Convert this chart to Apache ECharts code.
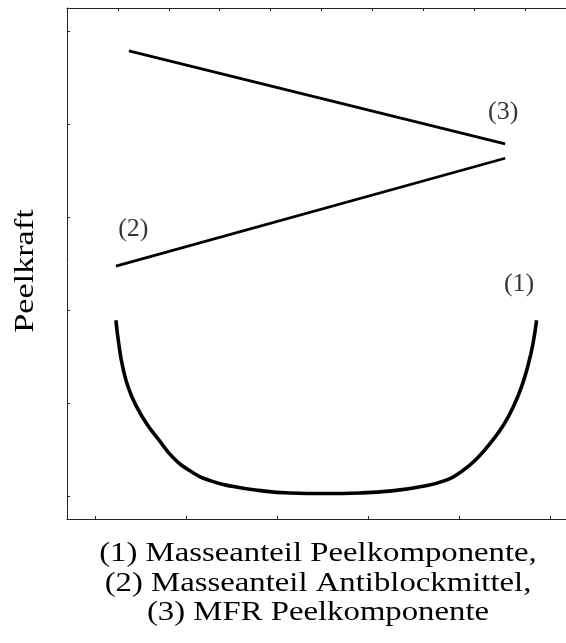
<!DOCTYPE html>
<html>
<head>
<meta charset="utf-8">
<script src="https://cdn.jsdelivr.net/npm/echarts@6/dist/echarts.min.js"></script>
<style>
  html, body { margin: 0; padding: 0; background: #fff; }
  #chart { width: 566px; height: 643px; }
</style>
</head>
<body>
<div id="chart"></div>
<script>
// Schematic: peel force vs. three influencing factors (relative units, 0..100)

// (1) Masseanteil Peelkomponente: U-shaped response
const curve1 = [
  [9.8, 38.9], [10.4, 34.1], [11.2, 29.6], [12.4, 25.4], [14.0, 21.9],
  [16.0, 18.6], [18.4, 15.5], [21.2, 12.1], [24.7, 9.4], [28.7, 7.5],
  [33.1, 6.4], [38.3, 5.6], [44.7, 5.1], [51.7, 5.0], [58.7, 5.1],
  [65.1, 5.5], [70.7, 6.3], [75.4, 7.4], [79.2, 9.4], [82.4, 12.1],
  [85.2, 15.3], [87.6, 18.6], [89.6, 22.3], [91.2, 26.2], [92.4, 30.1],
  [93.4, 34.4], [94.1, 38.9]
];
// (2) Masseanteil Antiblockmittel: rising
const line2 = [[9.8, 49.5], [87.8, 70.6]];
// (3) MFR Peelkomponente: falling
const line3 = [[12.4, 91.6], [87.8, 73.4]];

// Curve tags
const tagNames = ['(1)', '(2)', '(3)'];
const tagPos = [[90.6, 45.9], [13.3, 56.8], [87.4, 79.6]];

// Tick positions (no tick labels are shown)
const bottomTicks = [5.6, 23.8, 42.1, 60.3, 78.6, 96.8];
const topTicks = [0, 10.2, 20.4, 30.6, 40.8, 51.0, 61.2, 71.4, 81.6, 91.8];
const leftTicks = [4.5, 22.7, 40.9, 59.1, 77.3, 95.5];

const yTitle = 'Peelkraft';
const captionLines = [
  '(1) Masseanteil Peelkomponente,',
  '(2) Masseanteil Antiblockmittel,',
  '(3) MFR Peelkomponente'
];

const FONT = '"Liberation Serif", "Times New Roman", serif';
const AXIS_COLOR = '#222';

const chart = echarts.init(document.getElementById('chart'), null, { renderer: 'canvas' });

function axisBase(ticks) {
  return {
    type: 'value', min: 0, max: 100,
    axisLine: { show: true, onZero: false, lineStyle: { color: AXIS_COLOR, width: 1 } },
    axisTick: { show: true, inside: true, length: 3, customValues: ticks,
                lineStyle: { color: AXIS_COLOR, width: 1 } },
    axisLabel: { show: false },
    splitLine: { show: false }
  };
}

const option = {
  animation: false,
  backgroundColor: '#fff',
  grid: { left: 67, right: 0, top: 8, bottom: 124, containLabel: false },
  xAxis: [
    Object.assign(axisBase(bottomTicks), { position: 'bottom' }),
    Object.assign(axisBase(topTicks), { position: 'top' })
  ],
  yAxis: [
    Object.assign(axisBase(leftTicks), { position: 'left' })
  ],
  series: [
    {
      type: 'line', data: curve1, smooth: 0.5,
      showSymbol: false, silent: true,
      lineStyle: { color: '#000', width: 3.6 }
    },
    {
      type: 'line', data: line2, showSymbol: false, silent: true,
      lineStyle: { color: '#000', width: 2.8 }
    },
    {
      type: 'line', data: line3, showSymbol: false, silent: true,
      lineStyle: { color: '#000', width: 2.8 }
    },
    {
      type: 'scatter', symbolSize: 0, silent: true,
      data: tagPos.map((p, i) => ({ value: p, name: tagNames[i] })),
      label: {
        show: true, position: 'inside', formatter: '{b}',
        color: '#000', fontFamily: FONT, fontSize: 26
      }
    }
  ],
  graphic: [
    {
      type: 'text', x: 26, y: 271, rotation: Math.PI / 2, scaleX: 1.22,
      style: { text: yTitle, fill: '#000', font: '28px ' + FONT,
               textAlign: 'center', textVerticalAlign: 'middle' }
    }
  ].concat(captionLines.map((t, i) => ({
    type: 'text', x: 318, y: 554 + i * 29.5, scaleX: 1.17,
    style: { text: t, fill: '#000', font: '28px ' + FONT,
             textAlign: 'center', textVerticalAlign: 'middle' }
  })))
};

chart.setOption(option);
</script>
</body>
</html>
